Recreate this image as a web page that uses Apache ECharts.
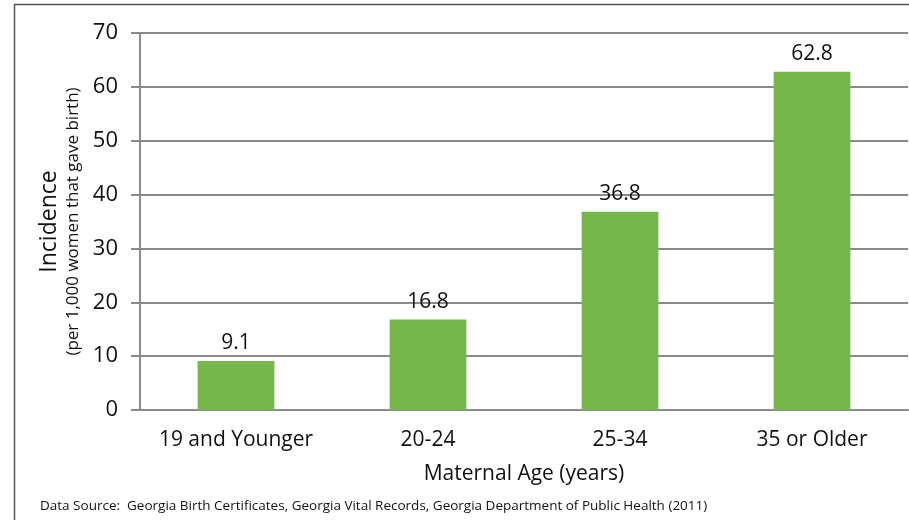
<!DOCTYPE html>
<html>
<head>
<meta charset="utf-8">
<script src="https://cdn.jsdelivr.net/npm/echarts@6/dist/echarts.min.js"></script>
<style>
  html, body { margin: 0; padding: 0; background: #fff; }
  #chart { width: 909px; height: 520px; }
</style>
</head>
<body>
<div id="chart"></div>
<script>
const categories = ['19 and Younger', '20-24', '25-34', '35 or Older'];
const incidence = [9.1, 16.8, 36.8, 62.8];

const fontFamily = '"Open Sans", "Noto Sans", sans-serif';
const chart = echarts.init(document.getElementById('chart'), null, { renderer: 'canvas' });

const option = {
  animation: false,
  textStyle: { fontFamily: fontFamily },
  grid: { left: 140, right: 1, top: 33, bottom: 110, containLabel: false },
  xAxis: {
    type: 'category',
    data: categories,
    name: 'Maternal Age (years)',
    nameLocation: 'middle',
    nameGap: 54,
    nameTextStyle: { fontSize: 21, color: '#111', fontFamily: fontFamily },
    axisLine: { lineStyle: { color: '#8a8a8a', width: 2 } },
    axisTick: { show: false },
    axisLabel: { fontSize: 21, color: '#111', margin: 20, interval: 0 }
  },
  yAxis: {
    type: 'value',
    min: 0,
    max: 70,
    interval: 10,
    name: '{a|Incidence}\n{b|(per 1,000 women that gave birth)}',
    nameLocation: 'middle',
    nameRotate: 90,
    nameGap: 54,
    nameTextStyle: {
      color: '#111',
      rich: {
        a: { fontSize: 23, fontFamily: fontFamily, lineHeight: 26, color: '#111' },
        b: { fontSize: 17, fontFamily: fontFamily, lineHeight: 22, color: '#111' }
      }
    },
    axisLine: { show: true, lineStyle: { color: '#8a8a8a', width: 2 } },
    axisTick: { show: true, length: 9, lineStyle: { color: '#8a8a8a', width: 2 } },
    axisLabel: { fontSize: 22, color: '#111', margin: 22 },
    splitLine: { show: true, lineStyle: { color: '#8a8a8a', width: 2 } }
  },
  series: [{
    type: 'bar',
    data: incidence,
    barWidth: '40%',
    itemStyle: { color: '#76b74b' },
    label: {
      show: true,
      position: 'top',
      distance: 7,
      fontSize: 21,
      color: '#111',
      formatter: (p) => p.value.toFixed(1)
    }
  }],
  graphic: [
    { type: 'line', shape: { x1: 14, y1: 4.5, x2: 909, y2: 4.5 }, style: { stroke: '#555', lineWidth: 1.5 } },
    { type: 'line', shape: { x1: 14.5, y1: 4, x2: 14.5, y2: 520 }, style: { stroke: '#555', lineWidth: 1.5 } },
    {
      type: 'text', left: 40, top: 499,
      style: {
        text: 'Data Source:  Georgia Birth Certificates, Georgia Vital Records, Georgia Department of Public Health (2011)',
        fontSize: 13.5, fill: '#111', fontFamily: fontFamily
      }
    }
  ]
};

chart.setOption(option);
</script>
</body>
</html>
